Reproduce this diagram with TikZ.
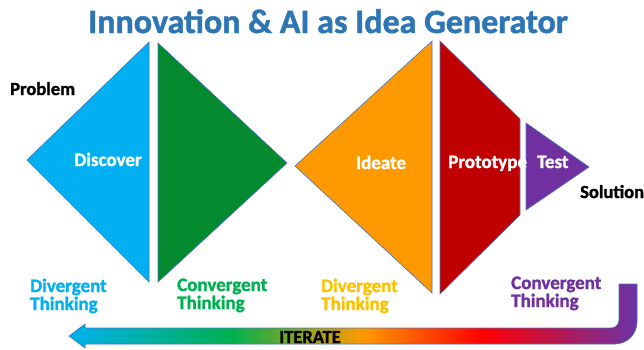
\documentclass[tikz,border=0pt]{standalone}
\usepackage{fontspec}
\setmainfont{Carlito}[BoldFont={* Bold},BoldFeatures={FakeBold=1.4}]
\usetikzlibrary{positioning}
\definecolor{titleblue}{RGB}{46,117,182}
\definecolor{discblue}{RGB}{0,176,240}
\definecolor{convgreen}{RGB}{3,137,46}
\definecolor{labgreen}{RGB}{0,176,80}
\definecolor{ideaorange}{RGB}{255,153,0}
\definecolor{labyellow}{RGB}{255,192,0}
\definecolor{protored}{RGB}{192,0,0}
\definecolor{testpurple}{RGB}{112,48,160}
\definecolor{edgeblue}{RGB}{68,114,196}
\definecolor{itred}{RGB}{255,0,0}
\pgfdeclarehorizontalshading{iterateshade}{100bp}{color(0bp)=(discblue); color(25bp)=(discblue);
  color(39.2bp)=(labgreen); color(50.9bp)=(ideaorange); color(61.4bp)=(itred);
  color(74.4bp)=(testpurple); color(100bp)=(testpurple)}
\tikzset{
  phase/.style={draw=edgeblue,line width=0.6pt,line join=miter},
  steplabel/.style={font=\fontsize{19}{19}\selectfont\bfseries,text=white,inner sep=0pt},
  sidelabel/.style={font=\fontsize{18.5}{19}\selectfont\bfseries,text=black,inner sep=0pt,anchor=base west},
  thinklabel/.style={font=\fontsize{19}{18}\selectfont\bfseries,inner sep=0pt,align=left,anchor=base west},
  iterarr/.style={shading=iterateshade,draw=edgeblue,line width=0.6pt}
}

\begin{document}
\begin{tikzpicture}[x=1pt,y=-1pt]
  \useasboundingbox (0,0) rectangle (644,349);
  \node[font=\fontsize{34}{34}\selectfont\bfseries,text=titleblue,inner sep=0pt,anchor=base] (title) at (328,33) {Innovation \& AI as Idea Generator};

  % the five phases
  \filldraw[phase,fill=discblue] (27,160) -- (149,42) -- (149,282) -- cycle;
  \filldraw[phase,fill=convgreen] (158,43) -- (287,163) -- (158,282) -- cycle;
  \filldraw[phase,fill=ideaorange] (295,166) -- (432,41) -- (432,293) -- cycle;
  \filldraw[phase,fill=protored] (440,41) -- (520,119) -- (520,215) -- (440,294) -- cycle;
  \filldraw[phase,fill=testpurple] (526,123) -- (589,167) -- (526,210) -- cycle;

  \node[sidelabel] (problem) at (10,95) {Problem};
  \node[sidelabel] (solution) at (580,198) {Solution};
  \node[steplabel,anchor=base] (discover) at (108,166) {Discover};
  \node[steplabel,anchor=base] (ideate) at (381,169) {Ideate};
  \node[steplabel,anchor=base west] (prototype) at (448,168) {Prototype};
  \node[steplabel,anchor=base west] (test) at (537,168) {Test};

  % base anchor sits on the second line
  \node[thinklabel,text=discblue] (div1) at (30,310) {Divergent\\Thinking};
  \node[thinklabel,text=labgreen] (conv1) at (177,309) {Convergent\\Thinking};
  \node[thinklabel,text=labyellow] (div2) at (321,310) {Divergent\\Thinking};
  \node[thinklabel,text=testpurple] (conv2) at (511,307) {Convergent\\Thinking};

  % iterate arrow
  \shadedraw[iterarr] (85,324) -- (69,336) -- (85,348) -- (85,344) -- (615,344)
    arc[start angle=90,end angle=0,radius=22] -- (637,284) -- (619,284) -- (619,320)
    arc[start angle=0,end angle=90,radius=8] -- (85,328) -- cycle;
  \node[font=\fontsize{18.5}{19}\selectfont\bfseries,inner sep=0pt,anchor=base] (iterate) at (310,343) {ITERATE};
\end{tikzpicture}
\end{document}
